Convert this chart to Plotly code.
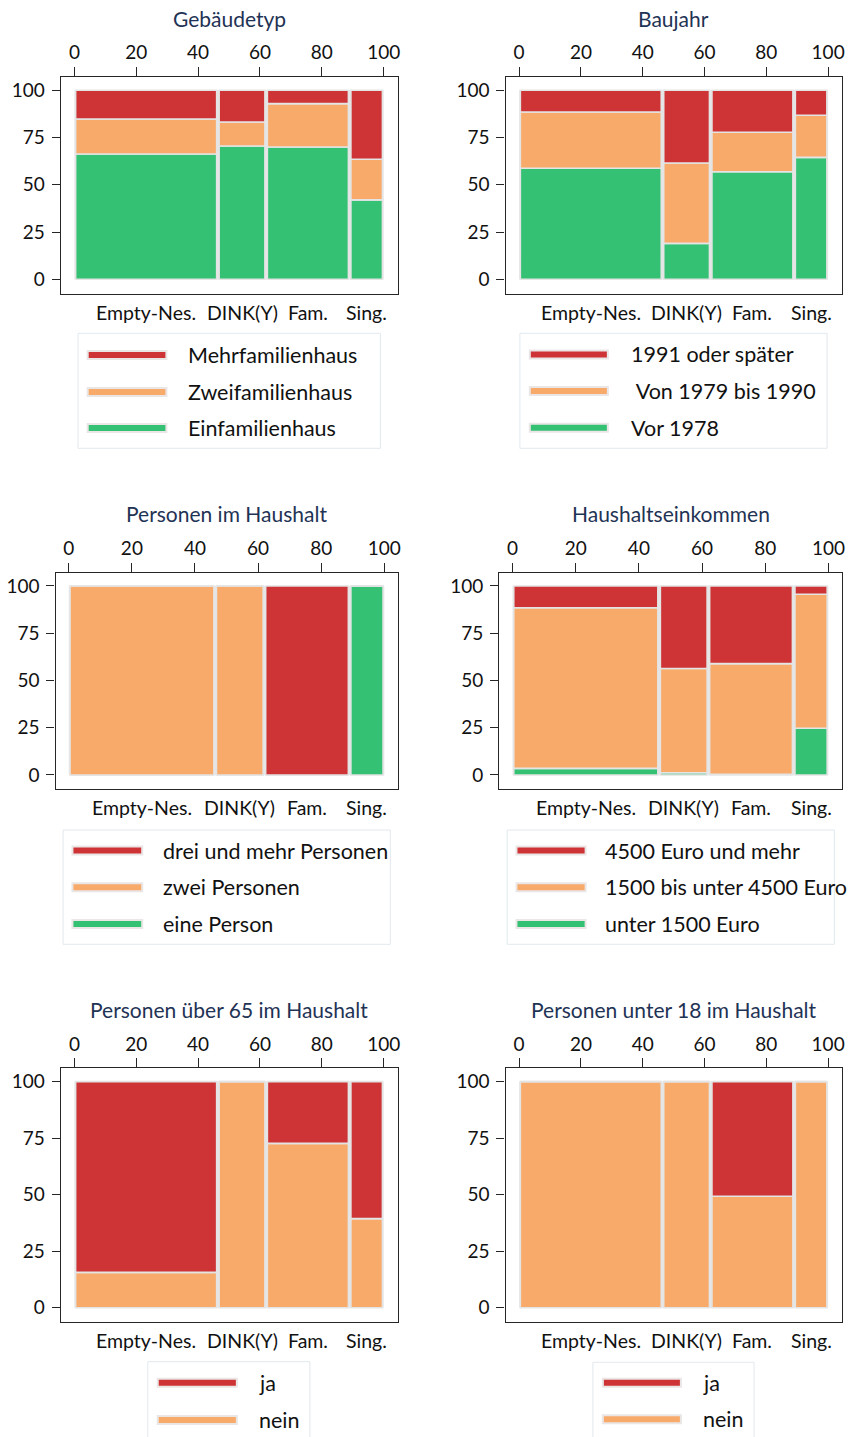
import plotly.graph_objects as go

# ---------------------------------------------------------------------------
# Data: household types (column widths = share of households, in %)
# ---------------------------------------------------------------------------
household_types = ["Empty-Nes.", "DINK(Y)", "Fam.", "Sing."]
household_share = [46.4, 15.6, 27.0, 11.0]

x_ticks = [0, 20, 40, 60, 80, 100]
y_ticks = [0, 25, 50, 75, 100]

# Gebäudetyp (shares within each household type, bottom to top)
gebaeude_labels = ["Einfamilienhaus", "Zweifamilienhaus", "Mehrfamilienhaus"]
gebaeude_einfamilienhaus = [66.3, 70.5, 70.0, 42.0]
gebaeude_zweifamilienhaus = [18.5, 12.7, 22.9, 21.5]
gebaeude_mehrfamilienhaus = [15.2, 16.8, 7.1, 36.5]

# Baujahr
baujahr_labels = ["Vor 1978", " Von 1979 bis 1990", "1991 oder später"]
baujahr_vor_1978 = [58.7, 19.0, 56.9, 64.5]
baujahr_1979_1990 = [29.8, 42.5, 20.9, 22.3]
baujahr_ab_1991 = [11.5, 38.5, 22.2, 13.2]

# Personen im Haushalt
personen_labels = ["eine Person", "zwei Personen", "drei und mehr Personen"]
personen_eine = [0.0, 0.0, 0.0, 100.0]
personen_zwei = [100.0, 100.0, 0.0, 0.0]
personen_drei_plus = [0.0, 0.0, 100.0, 0.0]

# Haushaltseinkommen
einkommen_labels = ["unter 1500 Euro", "1500 bis unter 4500 Euro", "4500 Euro und mehr"]
einkommen_unter_1500 = [3.5, 1.2, 0.4, 24.7]
einkommen_1500_4500 = [85.0, 55.1, 58.5, 70.9]
einkommen_ab_4500 = [11.5, 43.7, 41.1, 4.4]

# Personen über 65 im Haushalt
ueber65_labels = ["nein", "ja"]
ueber65_nein = [15.6, 100.0, 72.7, 39.4]
ueber65_ja = [84.4, 0.0, 27.3, 60.6]

# Personen unter 18 im Haushalt
unter18_labels = ["nein", "ja"]
unter18_nein = [100.0, 100.0, 49.3, 100.0]
unter18_ja = [0.0, 0.0, 50.7, 0.0]

RED = "#ce3435"
ORANGE = "#f7aa6a"
GREEN = "#34c173"

W, H = 852, 1437
FONT = "Lato"
TITLE_COLOR = "#1f3355"
TEXT_COLOR = "#111111"
AXIS_COLOR = "#262626"
TILE_EDGE = "#e4e4e4"
BACKDROP = "#e7e7e7"

panels = [
    dict(title="Gebäudetyp",
         series=[(gebaeude_labels[0], gebaeude_einfamilienhaus, GREEN),
                 (gebaeude_labels[1], gebaeude_zweifamilienhaus, ORANGE),
                 (gebaeude_labels[2], gebaeude_mehrfamilienhaus, RED)],
         frame=(61, 77, 399, 294), xr=[-4.4, 104.5], yr=[-7.8, 107.0],
         legend=dict(box=(78.3, 333.3, 381.7, 448.3), sw=(88, 167), tx=187,
                     ys=[355, 392, 428])),
    dict(title="Baujahr",
         series=[(baujahr_labels[0], baujahr_vor_1978, GREEN),
                 (baujahr_labels[1], baujahr_1979_1990, ORANGE),
                 (baujahr_labels[2], baujahr_ab_1991, RED)],
         frame=(507.3, 77, 845, 294), xr=[-4.4, 104.5], yr=[-7.8, 107.0],
         legend=dict(box=(521.7, 333.3, 830, 448.3), sw=(531.7, 610), tx=631,
                     ys=[354.5, 391, 427.7])),
    dict(title="Personen im Haushalt",
         series=[(personen_labels[0], personen_eine, GREEN),
                 (personen_labels[1], personen_zwei, ORANGE),
                 (personen_labels[2], personen_drei_plus, RED)],
         frame=(55.7, 572.7, 399.3, 788.7), xr=[-4.2, 104.3], yr=[-7.25, 107.0],
         legend=dict(box=(63.3, 830, 391.7, 944.3), sw=(72.7, 142.7), tx=162,
                     ys=[850.5, 887.3, 924])),
    dict(title="Haushaltseinkommen",
         series=[(einkommen_labels[0], einkommen_unter_1500, GREEN),
                 (einkommen_labels[1], einkommen_1500_4500, ORANGE),
                 (einkommen_labels[2], einkommen_ab_4500, RED)],
         frame=(501, 572.7, 845, 788.7), xr=[-4.2, 104.3], yr=[-7.25, 107.0],
         legend=dict(box=(509, 830, 837.3, 944.3), sw=(518.3, 587.7), tx=605.5,
                     ys=[850.5, 887.3, 924])),
    dict(title="Personen über 65 im Haushalt",
         series=[(ueber65_labels[0], ueber65_nein, ORANGE),
                 (ueber65_labels[1], ueber65_ja, RED)],
         frame=(61, 1068.3, 399, 1321.7), xr=[-4.4, 104.5], yr=[-6.2, 105.9],
         legend=dict(box=(148.3, 1361.7, 311, 1445), sw=(158.3, 237.7), tx=258,
                     ys=[1382.7, 1420])),
    dict(title="Personen unter 18 im Haushalt",
         series=[(unter18_labels[0], unter18_nein, ORANGE),
                 (unter18_labels[1], unter18_ja, RED)],
         frame=(507.3, 1068.3, 845, 1321.7), xr=[-4.4, 104.5], yr=[-6.2, 105.9],
         legend=dict(box=(595, 1362.3, 756.7, 1445), sw=(605, 683.3), tx=703.5,
                     ys=[1382.7, 1419.3])),
]

# column geometry of the mosaic (spine widths)
lefts = []
acc = 0.0
for w in household_share:
    lefts.append(acc)
    acc += w
centers = [l + w / 2 for l, w in zip(lefts, household_share)]
col_gap = 0.8
bar_widths = [w - col_gap for w in household_share]


def px_x(px):
    return px / W


def px_y(py):
    return 1 - py / H


fig = go.Figure()
layout = dict(width=W, height=H, margin=dict(l=0, r=0, t=0, b=0),
              paper_bgcolor="white", plot_bgcolor="white",
              barmode="overlay", showlegend=False,
              font=dict(family=FONT, color=TEXT_COLOR, size=19))
shapes = []
annotations = []

for i, p in enumerate(panels, start=1):
    xa = "x" if i == 1 else f"x{i}"
    ya = "y" if i == 1 else f"y{i}"
    fx0, fy0, fx1, fy1 = p["frame"]

    # stacked tiles, bottom to top
    base = [0.0] * len(household_types)
    for label, vals, color in p["series"]:
        fig.add_trace(go.Bar(
            x=centers, y=vals, base=list(base), width=bar_widths,
            marker=dict(color=color, line=dict(color=TILE_EDGE, width=1.6)),
            name=label, xaxis=xa, yaxis=ya, hoverinfo="skip"))
        base = [b + v for b, v in zip(base, vals)]

    axis_common = dict(showline=True, linecolor=AXIS_COLOR, linewidth=1.3,
                       mirror=True, ticks="outside", tickcolor=AXIS_COLOR,
                       tickwidth=1.3, showgrid=False, zeroline=False,
                       fixedrange=True,
                       tickfont=dict(family=FONT, size=19, color=TEXT_COLOR))
    layout["xaxis" if i == 1 else f"xaxis{i}"] = dict(
        axis_common, domain=[px_x(fx0), px_x(fx1)], anchor=ya, side="top",
        range=p["xr"], tickvals=x_ticks, ticklen=9, ticklabelstandoff=0)
    layout["yaxis" if i == 1 else f"yaxis{i}"] = dict(
        axis_common, domain=[px_y(fy1), px_y(fy0)], anchor=xa,
        range=p["yr"], tickvals=y_ticks, ticklen=8, ticklabelstandoff=3)

    # light backdrop behind the mosaic
    shapes.append(dict(type="rect", xref=xa, yref=ya, x0=0, x1=100, y0=0, y1=100,
                       fillcolor=BACKDROP, line=dict(width=0), layer="below"))

    # title
    annotations.append(dict(text=p["title"], xref="paper", yref="paper",
                            x=px_x((fx0 + fx1) / 2), y=px_y(fy0 - 59),
                            xanchor="center", yanchor="middle", showarrow=False,
                            font=dict(family=FONT, size=21, color=TITLE_COLOR)))

    # household type labels under each spine
    for c, name in zip(centers, household_types):
        annotations.append(dict(text=name, xref=xa, yref="paper", x=c,
                                y=px_y(fy1 + 18.5), xanchor="center",
                                yanchor="middle", showarrow=False,
                                font=dict(family=FONT, size=19.5, color=TEXT_COLOR)))

    # key box
    lg = p["legend"]
    bx0, by0, bx1, by1 = lg["box"]
    shapes.append(dict(type="rect", xref="paper", yref="paper",
                       x0=px_x(bx0), x1=px_x(bx1), y0=px_y(by1), y1=px_y(by0),
                       line=dict(color="#e1e9ed", width=1), fillcolor="rgba(0,0,0,0)"))
    for (label, _vals, color), yc in zip(reversed(p["series"]), lg["ys"]):
        shapes.append(dict(type="rect", xref="paper", yref="paper",
                           x0=px_x(lg["sw"][0]), x1=px_x(lg["sw"][1]),
                           y0=px_y(yc + 4), y1=px_y(yc - 4),
                           fillcolor=color, line=dict(color="#ebe6e6", width=2)))
        annotations.append(dict(text=label, xref="paper", yref="paper",
                                x=px_x(lg["tx"]), y=px_y(yc), xanchor="left",
                                yanchor="middle", showarrow=False,
                                font=dict(family=FONT, size=21.5, color=TEXT_COLOR)))

layout["shapes"] = shapes
layout["annotations"] = annotations
fig.update_layout(**layout)
fig.write_html("out.html")
